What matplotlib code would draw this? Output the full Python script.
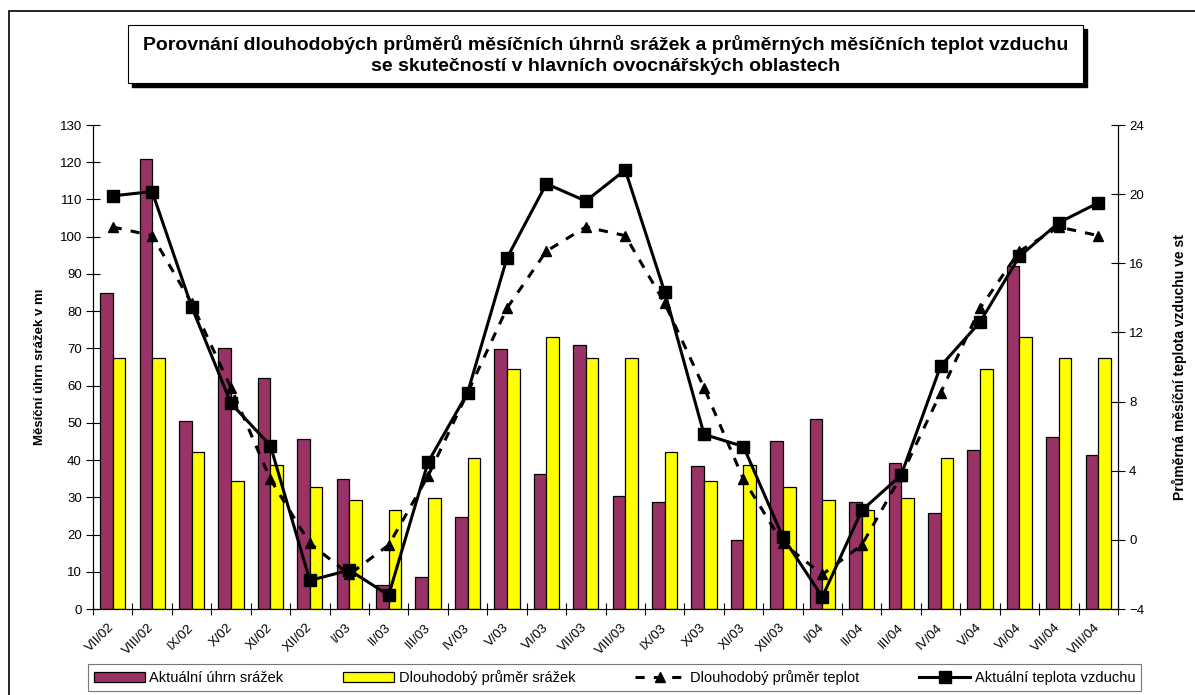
import numpy as np
import matplotlib
matplotlib.use("Agg")
import matplotlib.pyplot as plt
from matplotlib.patches import Rectangle

plt.rcParams['font.family'] = ['Liberation Sans', 'DejaVu Sans']

# data
months = ["VII/02", "VIII/02", "IX/02", "X/02", "XI/02", "XII/02",
          "I/03", "II/03", "III/03", "IV/03", "V/03", "VI/03",
          "VII/03", "VIII/03", "IX/03", "X/03", "XI/03", "XII/03",
          "I/04", "II/04", "III/04", "IV/04", "V/04", "VI/04",
          "VII/04", "VIII/04"]
srazky_akt = [85, 121, 50.6, 70.1, 62, 45.7,
              35, 6.4, 8.6, 24.8, 69.8, 36.2,
              70.9, 30.4, 28.8, 38.4, 18.5, 45.1,
              51, 28.8, 39.2, 25.9, 42.6, 92.2,
              46.1, 41.4]
srazky_dlouh = [67.5, 67.5, 42.1, 34.4, 38.8, 32.9,
                29.2, 26.6, 29.9, 40.6, 64.5, 73,
                67.5, 67.5, 42.1, 34.4, 38.8, 32.9,
                29.2, 26.6, 29.9, 40.6, 64.5, 73,
                67.5, 67.5]
teplota_dlouh = [18.1, 17.6, 13.7, 8.8, 3.5, -0.2,
                 -2.0, -0.3, 3.7, 8.5, 13.4, 16.7,
                 18.1, 17.6, 13.7, 8.8, 3.5, -0.2,
                 -2.0, -0.3, 3.7, 8.5, 13.4, 16.7,
                 18.1, 17.6]
teplota_akt = [19.9, 20.15, 13.5, 7.9, 5.45, -2.35,
               -1.75, -3.2, 4.5, 8.5, 16.3, 20.6,
               19.6, 21.4, 14.35, 6.1, 5.4, 0.15,
               -3.3, 1.7, 3.75, 10.05, 12.6, 16.4,
               18.35, 19.5]

W, H = 1195, 695
fig = plt.figure(figsize=(W / 100, H / 100), dpi=100)

# outer frame
fig.patches.append(Rectangle((9 / W, -0.1), 1.2, 1 - 11 / H + 0.1,
                             transform=fig.transFigure, fill=False,
                             edgecolor='black', lw=1.2))

ax = fig.add_axes([93 / W, 1 - 609 / H, (1118 - 93) / W, (609 - 125) / H])
x = np.arange(len(months))
bw = 0.32
ax.bar(x - bw / 2, srazky_akt, bw, color='#993366', edgecolor='black', lw=0.9,
       label='Aktuální úhrn srážek')
ax.bar(x + bw / 2, srazky_dlouh, bw, color='#ffff00', edgecolor='black', lw=0.9,
       label='Dlouhodobý průměr srážek')
ax.set_xlim(-0.5, len(months) - 0.5)
ax.set_ylim(0, 130)
ax.set_yticks(np.arange(0, 131, 10))
ax.set_xticks(x)
ax.set_xticklabels(months, rotation=45, ha='right', va='center',
                   rotation_mode='anchor', fontsize=9.5)
ax.tick_params(axis='x', length=0, pad=12)
ax.set_xticks(np.arange(-0.5, len(months), 1), minor=True)
ax.tick_params(axis='x', which='minor', direction='inout', length=8, width=0.8)
ax.tick_params(axis='y', direction='inout', length=10, width=0.8, labelsize=9.5, pad=3)
ax.spines['top'].set_visible(False)
ax.set_ylabel('Měsíční úhrn srážek v mı', fontsize=9.5, fontweight='bold', labelpad=10)

ax2 = ax.twinx()
ax2.plot(x, teplota_dlouh, color='black', ls=(0, (3, 3)), lw=2.2, marker='^',
         markersize=7, label='Dlouhodobý průměr teplot')
ax2.plot(x, teplota_akt, color='black', ls='-', lw=2.2, marker='s',
         markersize=9, label='Aktuální teplota vzduchu')
ax2.set_ylim(-4, 24)
ax2.set_yticks(np.arange(-4, 25, 4))
ax2.tick_params(axis='y', direction='inout', length=10, width=0.8, labelsize=9.5, pad=3)
ax2.spines['top'].set_visible(False)
ax2.set_ylabel('Průměrná měsíční teplota vzduchu ve st', fontsize=10,
               fontweight='bold', labelpad=20)

# title box with shadow
tx0, ty0, tx1, ty1 = 128, 25, 1083, 83
fig.patches.append(Rectangle(((tx0 + 4) / W, 1 - (ty1 + 4) / H), (tx1 - tx0) / W,
                             (ty1 - ty0) / H, transform=fig.transFigure,
                             facecolor='black', edgecolor='black'))
fig.patches.append(Rectangle((tx0 / W, 1 - ty1 / H), (tx1 - tx0) / W,
                             (ty1 - ty0) / H, transform=fig.transFigure,
                             facecolor='white', edgecolor='black', lw=0.8))
fig.text((tx0 + tx1) / 2 / W, 1 - (ty0 + ty1 + 2) / 2 / H,
         'Porovnání dlouhodobých průměrů měsíčních úhrnů srážek a průměrných měsíčních teplot vzduchu\n'
         'se skutečností v hlavních ovocnářských oblastech',
         ha='center', va='center', fontsize=14, fontweight='bold', linespacing=1.3)

h1, l1 = ax.get_legend_handles_labels()
h2, l2 = ax2.get_legend_handles_labels()
leg = fig.legend(h1 + h2, l1 + l2, loc='center', ncol=4, mode='expand',
                 bbox_to_anchor=(88 / W, 1 - 692 / H, (1141 - 88) / W, 29 / H),
                 frameon=True, fancybox=False, handlelength=3.5,
                 borderaxespad=0, handletextpad=0.3,
                 prop={'family': ['Liberation Sans Narrow', 'Liberation Sans'], 'size': 10.5})
leg.get_frame().set_edgecolor('#555555')
leg.get_frame().set_linewidth(0.8)

fig.savefig('out.png', dpi=100)
